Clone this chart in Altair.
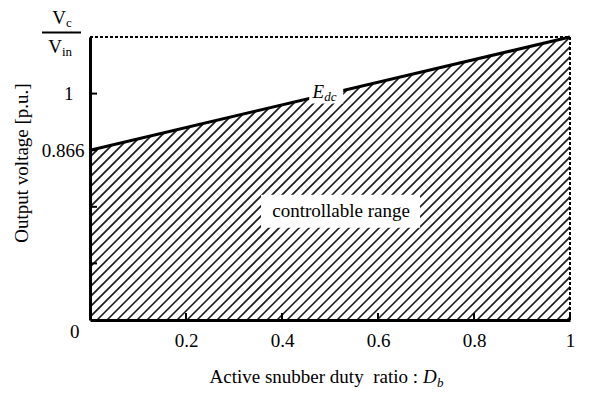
import altair as alt
import pandas as pd

# ---------------- data ----------------
db = [0.0, 1.0]                        # active snubber duty ratio D_b
edc = [0.866, 1.1547]                  # E_dc [p.u.]: 0.866 at D_b = 0, Vc/Vin at D_b = 1
vc_vin = 1.1547                        # top of the voltage axis (Vc/Vin)
y_breaks = [0.0, 0.866, 1.0, 1.1547]   # break points of the (schematic) voltage axis
x_tick_vals = [0.2, 0.4, 0.6, 0.8, 1.0]
y_tick_vals = [0.2887, 0.5773, 0.866, 1.0]
y_label_vals = [0.0, 0.866, 1.0]
annot_text = ["controllable range"]
annot_x = [0.523]
annot_y = [0.555]
edc_x = [0.49]
edc_y = [1.0]

# ---------------- layout / style ----------------
W, H = 480, 283
FONT = "Liberation Serif"
FS = 19
SUB = 13

xs = alt.Scale(domain=[0, 1], nice=False, zero=False)
ys = alt.Scale(domain=y_breaks, range=[H, H * 2 / 5, H / 5, 0], nice=False, zero=False)

xaxis = alt.Axis(values=x_tick_vals, format="~g", ticks=False, grid=False,
                 domainWidth=3, domainColor="black", labelFont=FONT, labelFontSize=FS,
                 labelColor="black", labelPadding=11, title=None, zindex=1,
                 labelFlush=False, labelOverlap=False)
yaxis = alt.Axis(values=y_label_vals,
                 labelExpr="datum.value == 0 ? '0' : (datum.value == 1 ? '1' : '0.866')",
                 ticks=False, grid=False, domainWidth=3, domainColor="black",
                 labelFont=FONT, labelFontSize=FS, labelColor="black",
                 labelPadding={"condition": [{"test": "datum.value == 1", "value": 17},
                                             {"test": "datum.value == 0", "value": 11}],
                               "value": 6},
                 labelOffset={"condition": {"test": "datum.value == 0", "value": 11}, "value": 0},
                 title=None, zindex=1, labelOverlap=False)


def X(f):
    return alt.X(f, type="quantitative", scale=xs, axis=xaxis)


def Y(f):
    return alt.Y(f, type="quantitative", scale=ys, axis=yaxis)


# hatch pattern (a fill style) drawn in pixel units, clipped to the plot
step = 10
cs = list(range(-H, W + step, step))
hatch_df = pd.DataFrame({"a": cs, "b": [c + H for c in cs],
                         "lo": [0] * len(cs), "hi": [H] * len(cs)})
hatch = alt.Chart(hatch_df).mark_rule(clip=True, color="#1a1a1a", strokeWidth=1.6).encode(
    x=alt.X("a:Q", scale=alt.Scale(domain=[0, W], nice=False, zero=False), axis=None),
    x2="b:Q",
    y=alt.Y("lo:Q", scale=alt.Scale(domain=[0, H], nice=False, zero=False), axis=None),
    y2="hi:Q",
)

line_df = pd.DataFrame({"db": db, "edc": edc, "top": [vc_vin] * len(db)})

mask = alt.Chart(line_df).mark_area(color="white", opacity=1).encode(
    x=X("db"), y=Y("edc"), y2="top:Q")

edc_line = alt.Chart(line_df).mark_line(color="black", strokeWidth=3).encode(
    x=X("db"), y=Y("edc"))

top_df = pd.DataFrame({"x0": [0.0], "x1": [1.0], "y0": [0.0], "y1": [vc_vin]})
top_dot = alt.Chart(top_df).mark_rule(color="black", strokeWidth=2, strokeDash=[3, 2]).encode(
    x=X("x0"), x2="x1:Q", y=Y("y1"))
right_dot = alt.Chart(top_df).mark_rule(color="black", strokeWidth=2, strokeDash=[3, 2]).encode(
    x=X("x1"), y=Y("y0"), y2="y1:Q")

xt_df = pd.DataFrame({"v": x_tick_vals, "z": [0.0] * len(x_tick_vals)})
xticks = alt.Chart(xt_df).mark_tick(orient="vertical", size=7, thickness=2, color="black",
                                    yOffset=-3.5, opacity=1).encode(x=X("v"), y=Y("z"))
yt_df = pd.DataFrame({"v": y_tick_vals, "z": [0.0] * len(y_tick_vals)})
yticks = alt.Chart(yt_df).mark_tick(orient="horizontal", size=7, thickness=2, color="black",
                                    xOffset=3.5, opacity=1).encode(x=X("z"), y=Y("v"))

ann_df = pd.DataFrame({"x": annot_x, "y": annot_y, "t": annot_text})
ann_box = alt.Chart(ann_df).mark_point(shape="M-80,-16.5H79V16.5H-80Z", size=4, filled=True,
                                       color="white", opacity=1, strokeWidth=0).encode(
    x=X("x"), y=Y("y"))
ann_txt = alt.Chart(ann_df).mark_text(font=FONT, fontSize=FS, color="black",
                                      align="center", baseline="middle").encode(
    x=X("x"), y=Y("y"), text="t:N")

edc_df = pd.DataFrame({"x": edc_x, "y": edc_y})
edc_box = alt.Chart(edc_df).mark_point(shape="M-16,-10H18V10H-16Z", size=4, filled=True,
                                       color="white", opacity=1, strokeWidth=0).encode(
    x=X("x"), y=Y("y"))
edc_E = alt.Chart(edc_df).mark_text(text="E", font=FONT, fontSize=FS, fontStyle="italic",
                                    color="black", align="right", baseline="alphabetic",
                                    dx=-1, dy=4).encode(x=X("x"), y=Y("y"))
edc_sub = alt.Chart(edc_df).mark_text(text="dc", font=FONT, fontSize=SUB, fontStyle="italic",
                                      color="black", align="left", baseline="alphabetic",
                                      dx=-1, dy=7).encode(x=X("x"), y=Y("y"))

# titles (layout text, placed relative to the plot area)
one = pd.DataFrame({"k": [0]})


def label(txt, x, y, size=FS, style="normal", align="left", angle=0, baseline="alphabetic"):
    return alt.Chart(one).mark_text(text=txt, font=FONT, fontSize=size, fontStyle=style,
                                    color="black", align=align, baseline=baseline,
                                    angle=angle).encode(x=alt.value(x), y=alt.value(y))


ytitle = label("Output voltage [p.u.]", -68, 126, align="center", angle=270, baseline="middle")
xtitle = label("Active snubber duty\u00a0 ratio :", 328, 346, align="right")
xtitle_D = label("D", 333, 346, style="italic")
xtitle_b = label("b", 347, 350, size=SUB, style="italic")
vc_V = label("V", -24, -13, align="right")
vc_c = label("c", -24, -10, size=SUB)
vin_V = label("V", -28, 16, align="right")
vin_in = label("in", -28, 19, size=SUB)
frac_bar = alt.Chart(one).mark_rule(color="black", strokeWidth=2).encode(
    x=alt.value(-48), x2=alt.value(-9), y=alt.value(-4.5))

main = alt.layer(mask, edc_line, top_dot, right_dot, xticks, yticks,
                 ann_box, ann_txt, edc_box, edc_E, edc_sub,
                 ytitle, xtitle, xtitle_D, xtitle_b, vc_V, vc_c, vin_V, vin_in, frac_bar)

chart = alt.layer(hatch, main).resolve_scale(x="independent", y="independent").properties(
    width=W, height=H,
    padding={"left": 90, "top": 37, "right": 592 - 90 - W, "bottom": 394 - 37 - H},
    autosize=alt.AutoSizeParams(type="none"),
    background="white",
).configure_view(stroke=None)

chart.save("out.html", embed_options={"renderer": "svg", "actions": False})
